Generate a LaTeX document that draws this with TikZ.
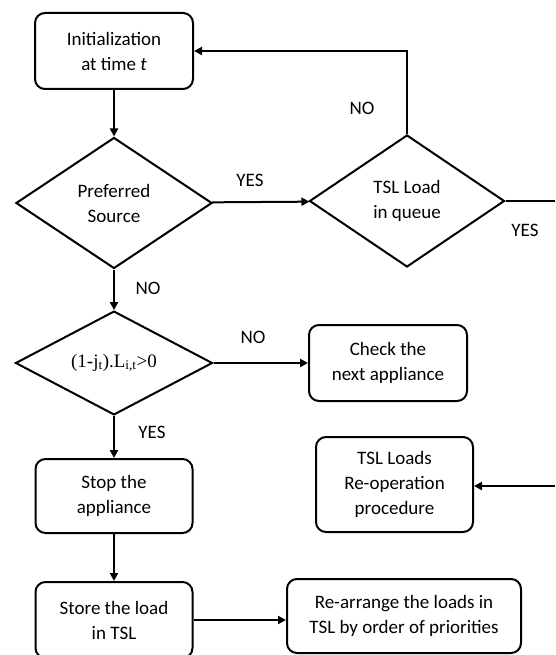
\documentclass[tikz,border=0pt]{standalone}
\usepackage{fontspec}
\setmainfont{Carlito}
\newfontfamily\eqfont{Liberation Serif}
\usetikzlibrary{shapes.geometric,arrows.meta}
\begin{document}
\begin{tikzpicture}[x=1pt,y=-1pt,font=\fontsize{19}{25}\selectfont,
		box/.style={draw,rounded corners=10pt,align=center,inner sep=0pt,line width=2pt},
		decision/.style={draw,diamond,align=center,inner sep=0pt,line width=2pt},
		flow/.style={-{Triangle[length=8pt,width=8pt]},line width=2pt},
		plain/.style={line width=2pt}]
	\useasboundingbox (0,0) rectangle (555,655);
	% blocks
	\node[box,minimum width=158pt,minimum height=76pt] (init) at (114,51) {Initialization\\at time \textit{t}};
	\node[decision,minimum width=196pt,minimum height=131pt] (pref) at (114,203) {Preferred\\Source};
	\node[decision,minimum width=195pt,minimum height=132pt] (tsl) at (407,201) {TSL Load\\in queue};
	\node[decision,minimum width=197pt,minimum height=87pt] (cond) at (114,363) {\eqfont (1-j\textsubscript{t}).L\textsubscript{i,t}>0};
	\node[box,minimum width=158pt,minimum height=76pt] (check) at (388,363) {Check the\\next appliance};
	\node[box,minimum width=157pt,minimum height=74pt] (stop) at (114,496) {Stop the\\appliance};
	\node[box,minimum width=157pt,minimum height=95pt] (reop) at (394.5,484.5) {TSL Loads\\Re-operation\\procedure};
	\node[box,minimum width=157pt,minimum height=76pt] (store) at (114,620) {Store the load\\in TSL};
	\node[box,minimum width=234pt,minimum height=74pt] (rearr) at (404,616) {Re-arrange the loads in\\TSL by order of priorities};
	\coordinate (yesend) at (555,201);
	\coordinate (reopin) at (555,486);
	% labels
	\node (yesa) at (250,180) {YES};
	\node (noa) at (362,108) {NO};
	\node (yesb) at (525,230) {YES};
	\node (nob) at (148,288) {NO};
	\node (noc) at (253,337) {NO};
	\node (yesc) at (152,432) {YES};
	% connectors
	\draw[flow] (init) -- (pref);
	\draw[flow] (pref) -- (tsl);
	\draw[flow] (tsl.north) |- (init.east);
	\draw[plain] (tsl.east) -- (yesend);
	\draw[flow] (pref) -- (cond);
	\draw[flow] (cond) -- (check);
	\draw[flow] (cond) -- (stop);
	\draw[flow] (stop) -- (store);
	\draw[flow] (store.east) -- (store.east -| rearr.west);
	\draw[flow] (reopin) -- (reopin -| reop.east);
\end{tikzpicture}
\end{document}
